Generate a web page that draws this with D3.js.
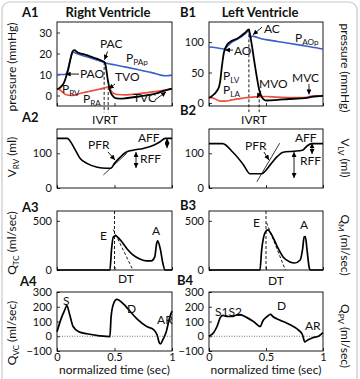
<!DOCTYPE html>
<html><head><meta charset="utf-8">
<script src="https://cdn.jsdelivr.net/npm/d3@7"></script>
<style>body{margin:0;background:#fff}svg{display:block;font-family:Lato,"Open Sans",sans-serif}</style>
</head><body><script>
// ---------------- DATA ----------------
const timeTicks = [0, 0.5, 1];
const ticksA1 = [0, 10, 20, 30];
const ticksB1 = [0, 50, 100];
const ticksVol = [0, 100];
const ticksQ = [0, 500];
const ticksQv = [-100, 0, 100, 200, 300];

// A1: right heart pressures (mmHg)
const tPPA = [0, 0.07, 0.09, 0.11, 0.13, 0.145, 0.17, 0.2, 0.25, 0.3, 0.35, 0.4, 0.43, 0.5, 0.6, 0.7, 0.8, 0.86, 0.9, 0.95, 1];
const vPPA = [10, 10, 11.5, 16, 19.8, 20.6, 20, 19.4, 18.6, 17.8, 16.9, 16, 15.4, 14.6, 13.5, 12.4, 11.2, 10.4, 9.7, 9.4, 9.7];
const tPRV = [0, 0.02, 0.04, 0.06, 0.08, 0.1, 0.12, 0.135, 0.15, 0.18, 0.22, 0.26, 0.3, 0.35, 0.39, 0.41, 0.42, 0.43, 0.44, 0.45, 0.46, 0.47, 0.49, 0.52, 0.56, 0.6, 0.7, 0.8, 0.88, 0.93, 1];
const vPRV = [3, 3.5, 4.5, 6, 9, 13, 18, 21, 21.6, 20.5, 19.8, 19.2, 18.4, 17.4, 16.5, 16, 15, 12, 8, 5, 2.5, 1, -0.5, -1.4, -1.5, -1.3, -0.6, 0.3, 1.3, 2.2, 3.3];
const tPRA = [0, 0.03, 0.06, 0.09, 0.12, 0.16, 0.2, 0.25, 0.3, 0.35, 0.4, 0.44, 0.46, 0.48, 0.52, 0.6, 0.7, 0.8, 0.9, 0.95, 1];
const vPRA = [3.3, 2.5, 1, 0.2, 0, 0.3, 1, 1.6, 2.2, 2.8, 3.4, 4, 3.2, 1.5, 0.5, 0.3, 0.8, 1.5, 2.2, 2.7, 3.3];

// B1: left heart pressures (mmHg)
const tPAO = [0, 0.05, 0.1, 0.14, 0.16, 0.2, 0.25, 0.3, 0.33, 0.35, 0.36, 0.38, 0.4, 0.45, 0.5, 0.6, 0.7, 0.8, 0.9, 1];
const vPAO = [92, 91, 89.5, 88.5, 93, 100, 105, 111, 116, 120, 107, 110, 109, 106, 104, 101, 98, 95, 92, 88.5];
const tPLV = [0, 0.03, 0.07, 0.09, 0.1, 0.11, 0.12, 0.13, 0.14, 0.16, 0.2, 0.25, 0.28, 0.32, 0.35, 0.36, 0.38, 0.4, 0.42, 0.44, 0.46, 0.48, 0.5, 0.6, 0.7, 0.8, 0.86, 0.9, 0.95, 1];
const vPLV = [8, 12, 20, 28, 38, 55, 70, 82, 89, 96, 102, 106, 110, 116, 121, 112, 90, 65, 42, 22, 11, 6, 4, 5, 6.5, 7.5, 8.5, 10, 11, 11.5];
const tPLA = [0, 0.05, 0.1, 0.14, 0.2, 0.3, 0.4, 0.5, 0.6, 0.7, 0.8, 0.86, 0.9, 0.95, 1];
const vPLA = [10, 7, 3, 3, 5, 8, 10, 10.5, 9.5, 9, 9, 9.5, 11.5, 11.5, 12];

// A2 / B2: ventricular volumes (ml)
const tVRV = [0, 0.09, 0.11, 0.16, 0.2, 0.26, 0.35, 0.43, 0.47, 0.5, 0.55, 0.6, 0.66, 0.75, 0.84, 0.9, 0.94, 1];
const vVRV = [143, 143, 137, 109, 86, 71, 60, 57, 57, 71, 89, 103, 109, 114, 123, 134, 143, 143];
const tVLV = [0, 0.12, 0.21, 0.3, 0.36, 0.46, 0.54, 0.6, 0.65, 0.74, 0.82, 0.86, 0.9, 1];
const vVLV = [128, 128, 103, 68, 41, 41, 68, 91, 103, 106, 109, 121, 128, 128];

// A3 / B3: valve flows (ml/sec)
const tQTC = [0, 0.46, 0.475, 0.49, 0.51, 0.55, 0.61, 0.66, 0.72, 0.78, 0.82, 0.85, 0.865, 0.875, 0.9, 0.92, 0.94, 1];
const vQTC = [0, 0, 220, 337, 347, 306, 214, 153, 112, 92, 92, 133, 260, 296, 204, 71, 0, 0];
const tQM = [0, 0.447, 0.462, 0.491, 0.515, 0.55, 0.6, 0.65, 0.71, 0.75, 0.8, 0.82, 0.835, 0.845, 0.86, 0.88, 0.89, 1];
const vQM = [0, 0, 204, 378, 408, 357, 235, 133, 82, 71, 102, 204, 337, 340, 204, 20, 0, 0];

// A4 / B4: venous flows (ml/sec)
const tQVC = [0, 0.04, 0.07, 0.085, 0.11, 0.14, 0.19, 0.26, 0.37, 0.46, 0.47, 0.49, 0.52, 0.58, 0.62, 0.7, 0.78, 0.84, 0.87, 0.89, 0.9, 0.92, 0.95, 0.98, 1];
const vQVC = [31, 128, 183, 210, 148, 66, 31, 17, 3, -3, 128, 217, 250, 217, 183, 114, 66, 45, 10, -45, -52, -24, 31, 128, 170];
const tQPV = [0, 0.04, 0.07, 0.1, 0.12, 0.16, 0.2, 0.23, 0.26, 0.33, 0.39, 0.45, 0.47, 0.51, 0.54, 0.56, 0.62, 0.68, 0.74, 0.78, 0.82, 0.84, 0.87, 0.91, 0.96, 1];
const vQPV = [0, 24, 66, 128, 141, 134, 134, 141, 148, 128, 100, 66, 100, 134, 148, 134, 110, 90, 66, 45, 10, -38, -24, -10, 0, 24];

// ---------------- DRAWING ----------------
const W = 360, H = 379;
const BLUE = "#3a5fc6", RED = "#e8503c";
const svg = d3.select("body").append("svg").attr("width", W).attr("height", H);
svg.append("rect").attr("x", 2).attr("y", 2).attr("width", 355).attr("height", 420).attr("rx", 8)
  .attr("fill", "none").attr("stroke", "#c8c8c8").attr("stroke-width", 1.2);

const defs = svg.append("defs");
defs.append("marker").attr("id", "ah").attr("viewBox", "0 0 8 8").attr("refX", 8).attr("refY", 4)
  .attr("markerWidth", 5).attr("markerHeight", 5).attr("markerUnits", "userSpaceOnUse")
  .attr("orient", "auto-start-reverse")
  .append("path").attr("d", "M0,0L8,4L0,8z").attr("fill", "#000");

const colA = [57, 172], colB = [209, 323];
const rows = [[22, 106], [129, 188], [211, 270], [292, 351]];

function panel(col, row, yDom, yTicks, showX) {
  const x = d3.scaleLinear().domain([0, 1]).range(col);
  const y = d3.scaleLinear().domain(yDom).range([row[1], row[0]]);
  const g = svg.append("g");
  const ya = g.append("g").attr("transform", `translate(${col[0]},0)`)
    .call(d3.axisLeft(y).tickValues(yTicks).tickSizeInner(-3).tickSizeOuter(0).tickPadding(5));
  const xa = g.append("g").attr("transform", `translate(0,${row[1]})`)
    .call(d3.axisBottom(x).tickValues(timeTicks).tickSizeInner(-3).tickSizeOuter(0).tickPadding(2)
      .tickFormat(showX ? d3.format("") : () => ""));
  [ya, xa].forEach(a => {
    a.select(".domain").remove();
    a.selectAll("text").attr("font-size", 11).attr("fill", "#111").attr("font-family", "Lato, sans-serif");
    a.selectAll("line").attr("stroke", "#000").attr("stroke-width", 0.8);
  });
  g.append("rect").attr("x", col[0]).attr("y", row[0]).attr("width", col[1] - col[0]).attr("height", row[1] - row[0])
    .attr("fill", "none").attr("stroke", "#000").attr("stroke-width", 0.9);
  return { x, y, g };
}

function curve(p, ts, vs, color, w) {
  const line = d3.line().x(d => p.x(d[0])).y(d => p.y(d[1])).curve(d3.curveMonotoneX);
  p.g.append("path").datum(d3.zip(ts, vs)).attr("d", line).attr("fill", "none")
    .attr("stroke", color).attr("stroke-width", w).attr("stroke-linejoin", "round");
}
function seg(p, t1, v1, t2, v2, opts = {}) {
  const l = p.g.append("line").attr("x1", p.x(t1)).attr("y1", p.y(v1)).attr("x2", p.x(t2)).attr("y2", p.y(v2))
    .attr("stroke", opts.color || "#000").attr("stroke-width", opts.w || 0.9);
  if (opts.dash) l.attr("stroke-dasharray", opts.dash);
  if (opts.arrow) l.attr("marker-end", "url(#ah)");
  if (opts.double) l.attr("marker-start", "url(#ah)").attr("marker-end", "url(#ah)");
  return l;
}
function label(p, t, v, main, sub, anchor = "start", size = 12) {
  const tx = p.g.append("text").attr("x", p.x(t)).attr("y", p.y(v)).attr("font-size", size)
    .attr("text-anchor", anchor).attr("fill", "#111");
  tx.append("tspan").text(main);
  if (sub) tx.append("tspan").attr("dy", 3).attr("font-size", size * 0.68).text(sub);
  return tx;
}

// panels
const A1 = panel(colA, rows[0], [-5, 35], ticksA1, false);
const B1 = panel(colB, rows[0], [-5, 133], ticksB1, false);
const A2 = panel(colA, rows[1], [0, 170], ticksVol, false);
const B2 = panel(colB, rows[1], [0, 170], ticksVol, false);
const A3 = panel(colA, rows[2], [0, 600], ticksQ, false);
const B3 = panel(colB, rows[2], [0, 600], ticksQ, false);
const A4 = panel(colA, rows[3], [-100, 300], ticksQv, true);
const B4 = panel(colB, rows[3], [-100, 300], ticksQv, true);

// ---- A1
seg(A1, 0.41, 16, 0.41, -8, { dash: "3,2" });
seg(A1, 0.445, 4, 0.445, -8, { dash: "3,2" });
curve(A1, tPPA, vPPA, BLUE, 1.6);
curve(A1, tPRA, vPRA, RED, 1.6);
curve(A1, tPRV, vPRV, "#000", 1.8);
label(A1, 0.374, 22.6, "PAC");
seg(A1, 0.44, 21, 0.413, 17, { arrow: true });
label(A1, 0.6, 16, "P", "PAp");
label(A1, 0.2, 8.3, "PAO");
seg(A1, 0.191, 10.2, 0.075, 10.2, { arrow: true });
label(A1, 0.504, 6.9, "TVO");
seg(A1, 0.504, 5.5, 0.452, 3.1, { arrow: true });
label(A1, 0.043, 1.2, "P", "RV");
label(A1, 0.226, -3.6, "P", "RA");
label(A1, 0.661, -3.1, "TVC");
seg(A1, 0.852, -2.1, 0.948, 1.7, { arrow: true });
label(A1, 0.417, -13.6, "IVRT", null, "middle");

// ---- B1
seg(B1, 0.35, 121, 0.35, -15, { dash: "3,2" });
seg(B1, 0.44, 14, 0.44, -15, { dash: "3,2" });
curve(B1, tPAO, vPAO, BLUE, 1.6);
curve(B1, tPLA, vPLA, RED, 1.6);
curve(B1, tPLV, vPLV, "#000", 1.8);
label(B1, 0.482, 115, "AC");
seg(B1, 0.465, 124.6, 0.386, 112, { arrow: true });
label(B1, 0.754, 100, "P", "AOp");
label(B1, 0.219, 78.7, "AO");
seg(B1, 0.211, 86.9, 0.14, 86.9, { arrow: true });
label(B1, 0.123, 37.7, "P", "LV");
label(B1, 0.123, 14.8, "P", "LA");
label(B1, 0.439, 24.6, "MVO");
seg(B1, 0.456, 19.7, 0.421, 8.2, { arrow: true });
label(B1, 0.728, 34.4, "MVC");
seg(B1, 0.877, 31, 0.877, 14, { arrow: true });
label(B1, 0.395, -34, "IVRT", null, "middle");

// ---- A2
curve(A2, tVRV, vVRV, "#000", 1.6);
seg(A2, 0.403, 37.5, 0.606, 100, { w: 0.8 });
label(A2, 0.27, 112, "PFR");
seg(A2, 0.443, 104, 0.504, 80.7, { arrow: true });
label(A2, 0.704, 132.5, "AFF");
label(A2, 0.722, 72, "RFF");
seg(A2, 0.687, 103.7, 0.687, 57.6, { double: true });
seg(A2, 0.957, 143, 0.957, 115, { double: true });

// ---- B2
curve(B2, tVLV, vVLV, "#000", 1.6);
seg(B2, 0.42, 18, 0.62, 129, { w: 0.8 });
label(B2, 0.316, 109.5, "PFR");
seg(B2, 0.482, 103.7, 0.526, 80.7, { arrow: true });
label(B2, 0.754, 132.5, "AFF");
label(B2, 0.798, 66.3, "RFF");
seg(B2, 0.746, 103.7, 0.746, 28.8, { double: true });
seg(B2, 0.904, 129, 0.904, 98, { double: true });

// ---- A3
seg(A3, 0.5, 600, 0.5, 0, { dash: "3,2" });
seg(A3, 0.49, 410, 0.66, 0, { dash: "3,2" });
curve(A3, tQTC, vQTC, "#000", 1.7);
label(A3, 0.374, 305, "E");
label(A3, 0.826, 356, "A");
label(A3, 0.53, -132, "DT");

// ---- B3
seg(B3, 0.5, 600, 0.5, 0, { dash: "3,2" });
seg(B3, 0.505, 480, 0.67, 0, { dash: "3,2" });
curve(B3, tQM, vQM, "#000", 1.7);
label(B3, 0.386, 437, "E");
label(B3, 0.798, 417, "A");
label(B3, 0.518, -152, "DT");

// ---- A4
seg(A4, 0, 0, 1, 0, { dash: "1,1.5", w: 0.7, color: "#333" });
curve(A4, tQVC, vQVC, "#000", 1.7);
label(A4, 0.052, 212, "S");
label(A4, 0.609, 158, "D");
label(A4, 0.87, 83, "AR");

// ---- B4
seg(B4, 0, 0, 1, 0, { dash: "1,1.5", w: 0.7, color: "#333" });
curve(B4, tQPV, vQPV, "#000", 1.7);
label(B4, 0.053, 137, "S1S2");
label(B4, 0.596, 178, "D");
label(B4, 0.842, 42, "AR");

// x labels
[[A4, colA], [B4, colB]].forEach(([p, c]) => {
  svg.append("text").attr("x", (c[0] + c[1]) / 2).attr("y", 374).attr("text-anchor", "middle")
    .attr("font-size", 12).attr("fill", "#111").text("normalized time (sec)");
});

// panel letters & titles
const bold = (x, y, s, anchor = "start", size = 13) => svg.append("text").attr("x", x).attr("y", y)
  .attr("font-size", size).attr("font-weight", "bold").attr("text-anchor", anchor).attr("fill", "#111").text(s);
bold(22, 17, "A1"); bold(108, 17, "Right Ventricle", "middle");
bold(180, 17, "B1"); bold(260, 17, "Left Ventricle", "middle");
bold(22, 122, "A2"); bold(180, 115, "B2");
bold(22, 212, "A3"); bold(180, 210, "B3");
bold(20, 286, "A4"); bold(177, 285, "B4");

// y labels
function ylab(x, y, rot, main, sub, rest) {
  const t = svg.append("text").attr("transform", `translate(${x},${y}) rotate(${rot})`)
    .attr("text-anchor", "middle").attr("font-size", 12).attr("fill", "#111");
  t.append("tspan").text(main);
  if (sub) {
    t.append("tspan").attr("dy", 3).attr("font-size", 8).text(sub);
    t.append("tspan").attr("dy", -3).text(rest);
  }
}
ylab(16, 67, -90, "pressure (mmHg)");
ylab(16, 157, -90, "V", "RV", " (ml)");
ylab(16, 243, -90, "Q", "TC", " (ml/sec)");
ylab(16, 333, -90, "Q", "VC", " (ml/sec)");
ylab(341, 68, 90, "pressure  (mmHg)");
ylab(341, 158, 90, "V", "LV", " (ml)");
ylab(341, 245, 90, "Q", "M", " (ml/sec)");
ylab(341, 336, 90, "Q", "PV", " (ml/sec)");
</script></body></html>
